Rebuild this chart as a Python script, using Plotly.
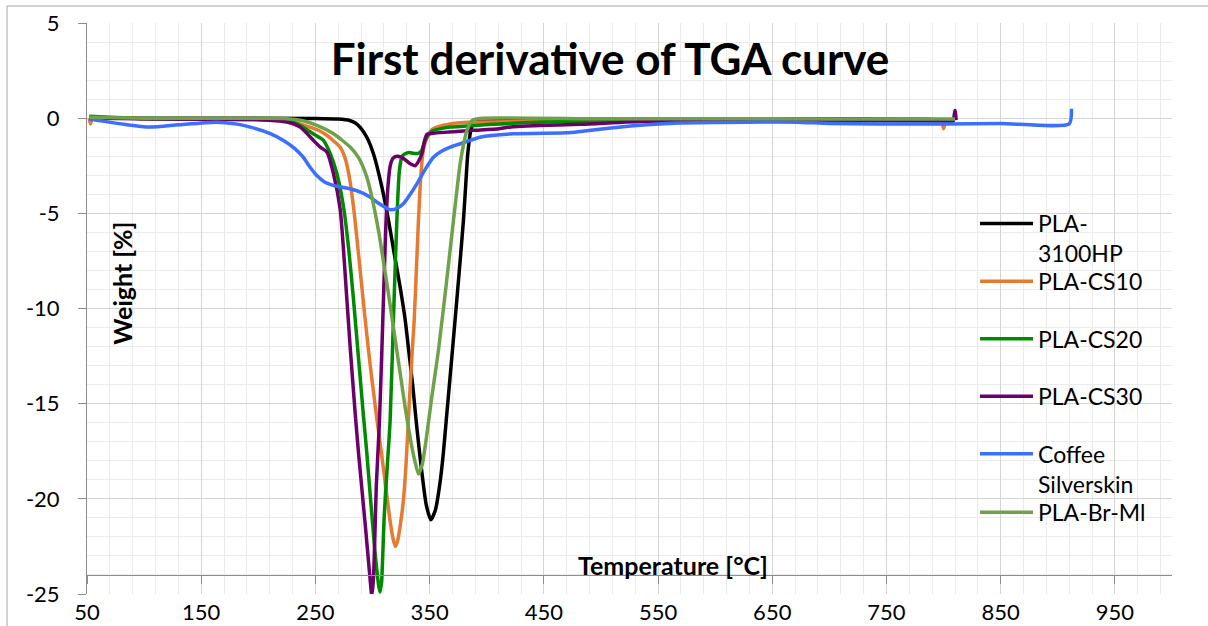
import plotly.graph_objects as go

# ---------------- data ----------------
temp_3100 = [52, 150, 250, 270, 280, 285, 289, 295, 300.8, 308.2, 314, 319, 324.2, 328.6, 332, 335.3,
             338.2, 342, 347, 351, 355, 359, 362, 364.5, 368.5, 372.3, 376, 379.6, 381.5, 383.4, 386,
             389, 395, 450, 550, 650, 750, 810]
dtg_3100 = [0, 0, -0.02, -0.05, -0.12, -0.25, -0.47, -1.0, -1.87, -3.62, -5.37, -7.12, -8.88, -10.6,
            -12.37, -14.1, -15.9, -18.0, -20.3, -21.1, -20.6, -19.2, -17.6, -15.9, -13.2, -10.6, -8.0,
            -5.37, -3.6, -1.87, -0.65, -0.15, -0.08, -0.05, -0.04, -0.04, -0.05, -0.1]

temp_cs10 = [52, 53, 55, 100, 200, 230, 245, 253, 260, 266, 272, 276, 280, 284, 288, 293.6, 298, 304,
             310, 315, 318, 320, 322, 324.5, 327, 329.5, 331.5, 334.5, 336.5, 338.5, 340.2, 342, 344,
             346, 348, 352, 356.3, 368, 385, 400, 500, 600, 700, 798, 800, 802, 808]
dtg_cs10 = [0, -0.3, 0, -0.05, -0.08, -0.2, -0.47, -0.65, -0.9, -1.2, -1.55, -2.1, -3.2, -5.0, -7.3,
            -10.6, -13.0, -15.9, -18.6, -21.0, -22.1, -22.5, -22.2, -21.3, -20.1, -18.0, -15.7, -12.5,
            -10.6, -7.8, -5.4, -3.3, -1.87, -1.3, -1.0, -0.6, -0.47, -0.3, -0.22, -0.2, -0.15, -0.12,
            -0.12, -0.15, -0.55, -0.15, -0.15]

temp_cs20 = [52, 100, 200, 225, 234, 248, 257, 263, 268.8, 274.6, 279, 283.3, 287.7, 292, 295, 302,
             305.5, 306.7, 308, 310.2, 312.8, 315.4, 318.3, 321.3, 323.6, 326, 328.6, 332, 336, 340,
             343, 346, 350, 353.3, 360, 368, 390, 412, 450, 500, 600, 700, 800, 810]
dtg_cs20 = [0.1, -0.02, -0.05, -0.15, -0.3, -0.82, -1.17, -1.87, -2.92, -4.67, -6.8, -9.5, -12.6,
            -15.6, -17.6, -22.7, -24.6, -24.9, -24.3, -20.95, -18.4, -15.9, -10.6, -5.37, -2.7, -2.0,
            -1.87, -1.8, -1.85, -1.85, -1.7, -1.17, -0.8, -0.65, -0.55, -0.47, -0.38, -0.3, -0.2,
            -0.15, -0.1, -0.08, -0.08, -0.1]

temp_cs30 = [52, 100, 200, 225, 236.7, 248.3, 254.2, 260, 265.8, 271.7, 277.5, 280.4, 284.8, 287.9,
             294, 298, 299.4, 300.8, 303.4, 306.1, 309, 311.7, 313.5, 315.5, 318, 321.3, 325, 329, 333,
             337.3, 340, 343.2, 345.5, 347.6, 353, 359, 388, 411, 423, 482, 540, 600, 700, 800, 808,
             810, 811]
dtg_cs30 = [0, -0.03, -0.08, -0.2, -0.47, -1.17, -1.52, -1.78, -2.92, -4.8, -9.5, -12.0, -15.5,
            -17.7, -21.6, -24.3, -25.1, -24.2, -19.2, -15.9, -10.6, -5.6, -3.6, -2.5, -2.1, -2.0,
            -2.05, -2.2, -2.4, -2.5, -2.3, -1.87, -1.2, -0.85, -0.8, -0.76, -0.64, -0.55, -0.45,
            -0.32, -0.16, -0.12, -0.12, -0.15, -0.15, 0.4, -0.1]

temp_csk = [52, 60, 80, 105, 130, 163, 180, 193, 210, 222, 232, 239.3, 245, 251, 258, 265.6, 273,
            280.4, 290, 298, 306, 315.4, 321, 327, 333, 338.8, 346, 353.3, 360, 368, 385.5, 394, 423,
            470, 482, 511, 540, 569, 628, 671, 700, 744, 800, 850, 910, 912]
dtg_csk = [-0.05, -0.12, -0.3, -0.47, -0.35, -0.21, -0.3, -0.47, -0.8, -1.17, -1.6, -2.05, -2.55,
           -3.0, -3.35, -3.53, -3.62, -3.71, -3.9, -4.15, -4.5, -4.81, -4.75, -4.5, -4.0, -3.45, -2.7,
           -2.05, -1.75, -1.52, -1.17, -1.0, -0.82, -0.77, -0.7, -0.5, -0.35, -0.26, -0.21, -0.21,
           -0.28, -0.3, -0.3, -0.28, -0.3, 0.5]

temp_brml = [52, 100, 200, 222, 240, 251.3, 265.8, 280.4, 288, 295, 300, 305.5, 310, 315.4, 320,
             324.2, 328.6, 333, 337, 340.2, 343.5, 347.6, 352, 357.7, 365, 371, 376.7, 380, 382.6,
             385.5, 388.4, 397, 500, 600, 700, 800, 810]
dtg_brml = [0.05, 0, -0.01, -0.02, -0.15, -0.38, -0.82, -1.52, -2.1, -3.1, -4.3, -6.0, -7.7, -9.8,
            -11.7, -13.4, -15.2, -16.8, -18.0, -18.7, -18.2, -16.6, -14.6, -12.2, -8.5, -5.3, -2.4,
            -1.3, -0.65, -0.25, -0.08, 0, -0.03, -0.03, -0.04, -0.05, -0.05]

series_names = ["PLA-<br>3100HP", "PLA-CS10", "PLA-CS20", "PLA-CS30", "Coffee<br>Silverskin", "PLA-Br-Ml"]
series_temps = [temp_3100, temp_cs10, temp_cs20, temp_cs30, temp_csk, temp_brml]
series_vals = [dtg_3100, dtg_cs10, dtg_cs20, dtg_cs30, dtg_csk, dtg_brml]
series_colors = ["#000000", "#E67A30", "#008A00", "#6B006B", "#3C6EFF", "#6FA14A"]

x_ticks = [50, 150, 250, 350, 450, 550, 650, 750, 850, 950]
x_ticktext = ["50", "150", "250", "350", "450", "550", "650", "750", "850", "950"]
y_ticks = [5, 0, -5, -10, -15, -20, -25]
y_ticktext = ["5", "0", "-5", "-10", "-15", "-20", "-25"]

FONT = "Lato"

fig = go.Figure()
legend_ids = ["legend", "legend2", "legend3", "legend4", "legend5", "legend6"]
for name, t, v, c, lg in zip(series_names, series_temps, series_vals, series_colors, legend_ids):
    fig.add_trace(go.Scatter(
        x=t, y=v, name=name, mode="lines",
        line=dict(color=c, width=3.5, shape="spline", smoothing=0.6),
        legend=lg,
    ))

# legend placement (one legend per entry to reproduce Excel's fixed row pitch)
legend_top_px = [224, 281.7, 339.3, 396.7, 454.3, 512.7]
plot_l, plot_t, plot_w, plot_h = 87, 23, 1085, 571
leg_common = dict(
    font=dict(family=FONT, size=23, color="#000000"),
    bgcolor="rgba(0,0,0,0)", borderwidth=0, valign="top",
    xanchor="left", yanchor="top", itemwidth=53,
)
layout_legends = {}
for lg, py in zip(legend_ids, legend_top_px):
    yy = (plot_t + plot_h - (py - 22)) / plot_h
    xx = (975 - plot_l) / plot_w
    layout_legends[lg] = dict(leg_common, x=xx, y=yy)

fig.update_layout(
    width=1208, height=626,
    margin=dict(l=plot_l, r=1208 - plot_l - plot_w, t=plot_t, b=626 - plot_t - plot_h),
    paper_bgcolor="white", plot_bgcolor="white",
    font=dict(family=FONT, color="#000000"),
    showlegend=True,
    title=dict(text="<b>First derivative of TGA curve</b>", x=610 / 1208, xanchor="center",
               y=1 - 60 / 626, yanchor="middle", font=dict(family=FONT, size=44, color="#000000")),
    xaxis=dict(
        range=[50, 1000], tickvals=x_ticks, ticktext=x_ticktext,
        showgrid=True, gridcolor="#d4d4d4", gridwidth=1,
        minor=dict(tick0=50, dtick=20, showgrid=True, gridcolor="#ebebeb", gridwidth=1, ticks=""),
        showline=True, linecolor="#8c8c8c", linewidth=1,
        ticks="outside", ticklen=8, tickcolor="#8c8c8c",
        anchor="free", position=1 / 30,
        zeroline=False, automargin=False,
        tickfont=dict(family=FONT, size=22, color="#000000"),
        ticklabelstandoff=10,
    ),
    yaxis=dict(
        range=[-25, 5], tickvals=y_ticks, ticktext=y_ticktext,
        showgrid=True, gridcolor="#d4d4d4", gridwidth=1,
        minor=dict(dtick=1, showgrid=True, gridcolor="#ebebeb", gridwidth=1, ticks=""),
        showline=True, linecolor="#8c8c8c", linewidth=1,
        ticks="outside", ticklen=8, tickcolor="#8c8c8c",
        zeroline=False, automargin=False,
        tickfont=dict(family=FONT, size=22, color="#000000"),
        ticklabelstandoff=14,
    ),
    **layout_legends,
)

# axis titles placed inside the plot area like the reference
fig.add_annotation(text="<b>Weight [%]</b>", x=80.9, y=-8.68, xref="x", yref="y",
                   textangle=-90, showarrow=False, font=dict(family=FONT, size=25, color="#000000"))
fig.add_annotation(text="<b>Temperature [°C]</b>", x=563, y=-23.5, xref="x", yref="y",
                   showarrow=False, font=dict(family=FONT, size=25, color="#000000"))

# chart-area border (left/top visible in the reference)
fig.add_shape(type="rect", xref="paper", yref="paper",
              x0=(7 - plot_l) / plot_w, x1=1.2, y0=-0.2, y1=(plot_t + plot_h - 6) / plot_h,
              line=dict(color="#a6a6a6", width=1), fillcolor="rgba(0,0,0,0)", layer="below")

fig.write_html("out.html")
